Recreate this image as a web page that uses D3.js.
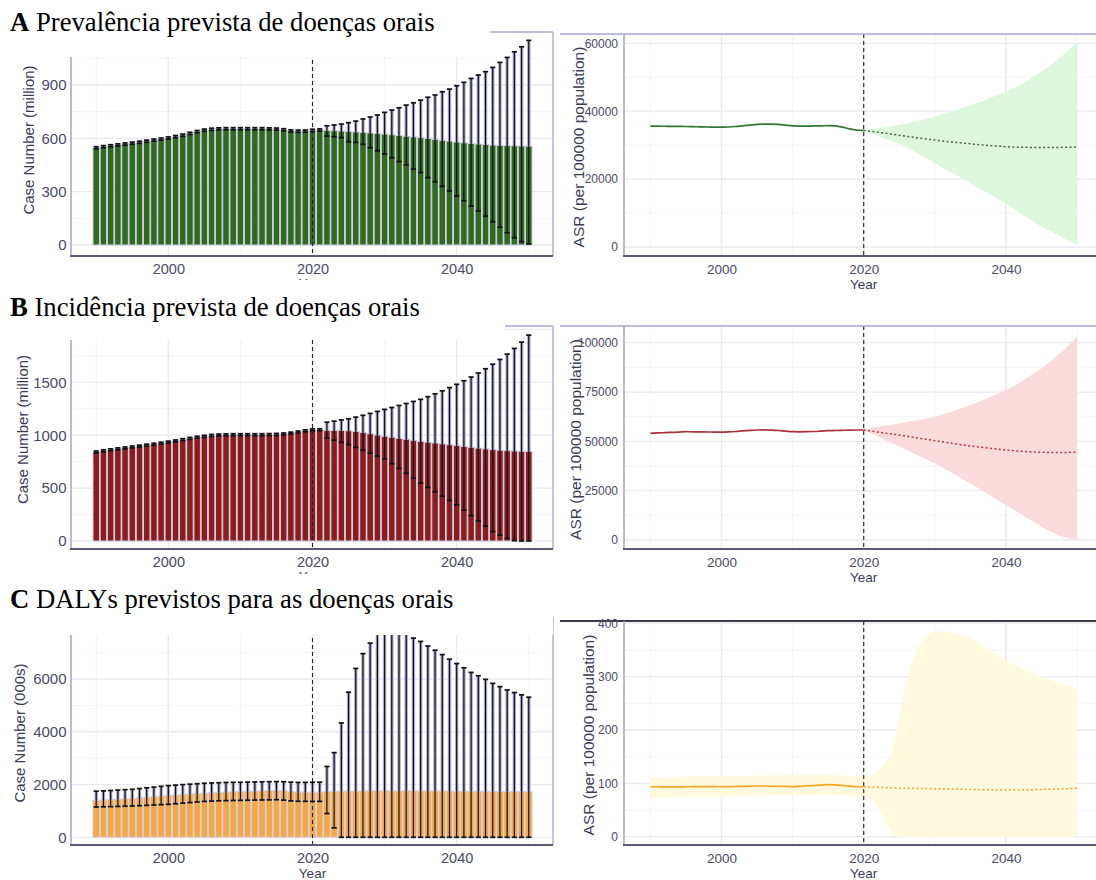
<!DOCTYPE html>
<html>
<head>
<meta charset="utf-8">
<script src="https://cdn.jsdelivr.net/npm/d3@7"></script>
<style>
  html, body { margin: 0; padding: 0; background: #ffffff; }
  svg { display: block; }
</style>
</head>
<body>
<svg id="fig" width="1096" height="880"></svg>
<script>
// ---------- data ----------
const years = [1990, 1991, 1992, 1993, 1994, 1995, 1996, 1997, 1998, 1999,
  2000, 2001, 2002, 2003, 2004, 2005, 2006, 2007, 2008, 2009,
  2010, 2011, 2012, 2013, 2014, 2015, 2016, 2017, 2018, 2019,
  2020, 2021, 2022, 2023, 2024, 2025, 2026, 2027, 2028, 2029,
  2030, 2031, 2032, 2033, 2034, 2035, 2036, 2037, 2038, 2039,
  2040, 2041, 2042, 2043, 2044, 2045, 2046, 2047, 2048, 2049, 2050];
const cutYear = 2020;
const yearTicks = [2000, 2020, 2040];

// A: prevalence, case number (million), 1990-2021 observed, 2022-2050 projected
const prevCase = [547, 553, 558, 563, 568, 573, 578, 584, 590, 596, 602, 610, 618, 628, 638, 646, 651, 653, 654, 654, 654, 654, 654, 654, 653, 652, 648, 642, 640, 641, 645, 647,
  645, 643, 641, 639, 636, 633, 630, 627, 624, 620, 616, 612, 608, 604, 599, 594, 589, 584, 579, 575, 571, 568, 565, 562, 560, 559, 558, 557, 556];
const prevCaseLow = [541, 547, 552, 557, 562, 567, 572, 578, 584, 590, 596, 604, 612, 622, 632, 640, 645, 647, 648, 648, 648, 648, 648, 648, 647, 646, 642, 636, 634, 635, 639, 641,
  613, 609, 604, 581, 577, 566, 547, 530, 512, 491, 469, 450, 427, 407, 379, 356, 330, 304, 276, 249, 219, 191, 163, 131, 100, 69, 41, 19, 6];
const prevCaseHigh = [553, 559, 564, 569, 574, 579, 584, 590, 596, 602, 608, 616, 624, 634, 644, 652, 657, 659, 660, 660, 660, 660, 660, 660, 659, 658, 654, 648, 646, 647, 651, 653,
  671, 675, 680, 688, 697, 709, 720, 731, 746, 759, 772, 787, 800, 815, 831, 844, 862, 877, 896, 915, 937, 956, 975, 999, 1027, 1055, 1087, 1115, 1151];
const prevCaseTicks = [0, 300, 600, 900];

// A: prevalence ASR (per 100000), observed 1990-2020 and projected 2020-2050
const prevAsrObs = [35600, 35580, 35560, 35540, 35520, 35500, 35450, 35400, 35350, 35300, 35280, 35350, 35500, 35700, 35900, 36100, 36200, 36200, 36100, 35900, 35700, 35600, 35600, 35650, 35700, 35750, 35650, 35300, 34800, 34450, 34350];
const prevAsrFc = [34350, 34100, 33800, 33500, 33200, 32900, 32600, 32300, 32000, 31750, 31500, 31250, 31000, 30800, 30600, 30400, 30200, 30000, 29850, 29700, 29550, 29450, 29400, 29350, 29300, 29300, 29300, 29300, 29350, 29400, 29450];
const prevAsrFcHigh = [34350, 34700, 35000, 35300, 35600, 35900, 36300, 36800, 37300, 37800, 38400, 39000, 39600, 40300, 41000, 41800, 42500, 43300, 44100, 44900, 45750, 46800, 47800, 49000, 50200, 51600, 53100, 54700, 56500, 58400, 60500];
const prevAsrFcLow = [34350, 33500, 32700, 31900, 31200, 30600, 29500, 28300, 27100, 25900, 24700, 23500, 22300, 21200, 20000, 18800, 17600, 16400, 15200, 14050, 12900, 11500, 10100, 8700, 7300, 6000, 4900, 3800, 2700, 1600, 600];
const prevAsrTicks = [0, 20000, 40000, 60000];

// B: incidence, case number (million)
const incCase = [842, 852, 862, 871, 880, 889, 897, 906, 915, 925, 935, 946, 958, 970, 981, 990, 998, 1002, 1004, 1005, 1005, 1005, 1005, 1005, 1006, 1008, 1012, 1020, 1030, 1042, 1050, 1052,
  1046, 1045, 1044, 1042, 1035, 1025, 1014, 1002, 990, 981, 971, 962, 952, 943, 934, 926, 918, 910, 902, 894, 886, 878, 871, 864, 858, 854, 851, 849, 848];
const incCaseLow = [833, 843, 853, 862, 871, 880, 888, 897, 906, 916, 926, 937, 949, 961, 972, 981, 989, 993, 995, 996, 996, 996, 996, 996, 997, 999, 1003, 1011, 1021, 1033, 1041, 1043,
  975, 954, 933, 911, 885, 858, 831, 803, 775, 731, 686, 640, 594, 547, 506, 465, 424, 383, 342, 291, 240, 190, 140, 89, 55, 25, 3, 0, 0];
const incCaseHigh = [851, 861, 871, 880, 889, 898, 906, 915, 924, 934, 944, 955, 967, 979, 990, 999, 1007, 1011, 1013, 1014, 1014, 1014, 1014, 1014, 1015, 1017, 1021, 1029, 1039, 1051, 1059, 1061,
  1123, 1133, 1144, 1155, 1171, 1188, 1206, 1225, 1244, 1262, 1281, 1300, 1319, 1339, 1364, 1391, 1420, 1450, 1481, 1515, 1550, 1588, 1628, 1671, 1716, 1766, 1820, 1880, 1946];
const incCaseTicks = [0, 500, 1000, 1500];

// B: incidence ASR (per 100000)
const incAsrObs = [54080, 54250, 54400, 54550, 54700, 54900, 54850, 54800, 54750, 54700, 54700, 54800, 55000, 55300, 55550, 55750, 55800, 55700, 55500, 55200, 54900, 54850, 54900, 55000, 55200, 55400, 55500, 55600, 55700, 55750, 55750];
const incAsrFc = [55750, 55250, 54700, 54200, 53700, 53200, 52600, 52000, 51450, 50900, 50330, 49800, 49250, 48700, 48150, 47640, 47200, 46800, 46400, 46000, 45620, 45300, 45000, 44750, 44550, 44440, 44400, 44400, 44400, 44420, 44440];
const incAsrFcHigh = [55750, 56800, 57400, 58000, 58550, 59100, 59700, 60300, 61000, 61700, 62500, 63500, 64600, 65800, 67100, 68400, 69800, 71300, 72800, 74400, 76000, 77900, 80000, 82200, 84500, 87000, 89800, 92800, 95900, 99300, 103000];
const incAsrFcLow = [55750, 54000, 52400, 50700, 49000, 47300, 45700, 44000, 42300, 40600, 38900, 36900, 34800, 32800, 30700, 28700, 26500, 24300, 22100, 19900, 17700, 15500, 13300, 11100, 8900, 6700, 4800, 3100, 1700, 700, 0];
const incAsrTicks = [0, 25000, 50000, 75000, 100000];

// C: DALYs, case number (000s)
const dalyCase = [1400, 1415, 1430, 1445, 1460, 1475, 1497, 1519, 1541, 1563, 1585, 1603, 1620, 1638, 1655, 1673, 1688, 1702, 1714, 1726, 1736, 1744, 1752, 1760, 1768, 1774, 1765, 1735, 1718, 1712, 1711, 1715,
  1735, 1742, 1748, 1752, 1755, 1757, 1759, 1760, 1761, 1762, 1762, 1762, 1761, 1760, 1759, 1758, 1756, 1754, 1752, 1750, 1748, 1746, 1744, 1742, 1740, 1738, 1736, 1734, 1732];
const dalyCaseLow = [1148, 1155, 1162, 1170, 1178, 1186, 1198, 1210, 1224, 1237, 1250, 1272, 1294, 1316, 1338, 1360, 1372, 1382, 1390, 1396, 1400, 1405, 1410, 1415, 1420, 1425, 1410, 1380, 1365, 1362, 1360, 1362,
  900, 360, 0, 0, 0, 0, 0, 0, 0, 0, 0, 0, 0, 0, 0, 0, 0, 0, 0, 0, 0, 0, 0, 0, 0, 0, 0, 0, 0];
const dalyCaseHigh = [1748, 1760, 1775, 1790, 1805, 1820, 1848, 1876, 1904, 1932, 1960, 1980, 1998, 2015, 2032, 2048, 2060, 2070, 2078, 2083, 2086, 2092, 2098, 2104, 2108, 2111, 2105, 2090, 2080, 2082, 2086, 2090,
  2685, 3210, 4335, 5500, 6400, 6960, 7360, 7720, 7950, 8050, 8000, 7850, 7550, 7425, 7250, 7090, 6925, 6750, 6585, 6425, 6250, 6125, 5985, 5835, 5710, 5585, 5486, 5400, 5310];
const dalyCaseTicks = [0, 2000, 4000, 6000];

// C: DALYs ASR (per 100000)
const dalyAsrObs = [93.6, 93.6, 93.5, 93.5, 93.5, 93.6, 93.7, 93.8, 93.8, 93.7, 93.6, 93.8, 94.1, 94.5, 94.8, 95.0, 95.0, 94.8, 94.5, 94.2, 94.0, 94.5, 95.2, 96.0, 96.8, 97.5, 97.3, 96.2, 94.8, 93.9, 93.6];
const dalyAsrObsHigh = [110.6, 111, 111.5, 112, 112.3, 112.6, 112.9, 113.1, 113.3, 113.5, 113.6, 113.8, 114, 114.2, 114.4, 114.6, 114.7, 114.8, 114.9, 115, 115, 115.1, 115.3, 115.5, 115.6, 115.6, 115.3, 114.8, 114, 113.5, 113];
const dalyAsrObsLow = [72, 72.5, 73, 73.4, 73.8, 74.1, 74.4, 74.6, 74.8, 74.9, 75, 75.4, 75.8, 76.2, 76.6, 77, 77.3, 77.5, 77.7, 77.9, 78, 78.3, 78.6, 78.9, 79.2, 79.4, 79, 78, 76.8, 75.8, 75];
const dalyAsrFc = [93.6, 93.0, 92.5, 92.0, 91.5, 91.0, 90.8, 90.6, 90.4, 90.2, 90.0, 89.7, 89.4, 89.1, 88.8, 88.5, 88.3, 88.1, 87.9, 87.6, 87.4, 87.5, 87.7, 88.0, 88.3, 88.6, 89.0, 89.4, 89.8, 90.2, 90.6];
const dalyAsrFcHigh = [113, 113, 123, 139, 162.5, 225, 288, 335, 363, 378, 384, 385, 384, 381, 377, 372, 364, 356, 348, 339, 331, 324, 317, 311, 305, 300, 295, 290, 286, 282, 278];
const dalyAsrFcLow = [75, 72, 55, 28, 8, 0, 0, 0, 0, 0, 0, 0, 0, 0, 0, 0, 0, 0, 0, 0, 0, 0, 0, 0, 0, 0, 0, 0, 0, 0, 0];
const dalyAsrTicks = [0, 100, 200, 300, 400];

// ---------- drawing ----------
const svg = d3.select("#fig");
const SANS = "'Liberation Sans', Arial, Helvetica, sans-serif";
const SERIF = "'Liberation Serif', 'Times New Roman', serif";
const INK = { tick: "#4a4a66", title: "#3b3b55", axisDark: "#5a5a78", axisLight: "#a7a7d0",
  grid: "#e9e9ef", gridMinor: "#f3f3f6", gap: "#cfcfe7", halo: "#a9a9d6", err: "#111111" };

const obsYears = years.slice(0, years.indexOf(cutYear) + 1);
const fcYears = years.slice(years.indexOf(cutYear));
const minorYears = [1990, 2010, 2030, 2050];

const xLeft = d3.scaleLinear().domain([1986.5, 2053.5]).range([71, 554]);
const xRight = d3.scaleLinear().domain([1986.3, 2053.5]).range([624, 1102]);

function drawGrid(g, x, y, x0, x1, top, bottom, ticks) {
  const step = ticks[1] - ticks[0];
  const yMinor = [];
  for (let v = ticks[0] + step / 2; y(v) >= top; v += step) yMinor.push(v);
  const yMajor = [];
  for (let v = ticks[0]; y(v) >= top; v += step) yMajor.push(v);
  g.append("g").selectAll("line").data(minorYears).join("line")
    .attr("x1", d => x(d)).attr("x2", d => x(d)).attr("y1", top).attr("y2", bottom)
    .attr("stroke", INK.gridMinor).attr("stroke-width", 0.9);
  g.append("g").selectAll("line").data(yMinor).join("line")
    .attr("x1", x0).attr("x2", x1).attr("y1", d => y(d)).attr("y2", d => y(d))
    .attr("stroke", INK.gridMinor).attr("stroke-width", 0.9);
  g.append("g").selectAll("line").data(yearTicks).join("line")
    .attr("x1", d => x(d)).attr("x2", d => x(d)).attr("y1", top).attr("y2", bottom)
    .attr("stroke", INK.grid).attr("stroke-width", 1.3);
  g.append("g").selectAll("line").data(yMajor).join("line")
    .attr("x1", x0).attr("x2", x1).attr("y1", d => y(d)).attr("y2", d => y(d))
    .attr("stroke", INK.grid).attr("stroke-width", 1.3);
}

function tickLabels(g, x, y, ticks, bottom, xLabelY, yLabelX, yFont, xFont) {
  g.append("g").attr("transform", `translate(${yLabelX},0)`)
    .call(d3.axisLeft(y).tickValues(ticks).tickFormat(d3.format("d")).tickSize(0).tickPadding(0))
    .call(a => a.select(".domain").remove())
    .call(a => a.selectAll("text").attr("fill", INK.tick).attr("font-family", SANS).attr("font-size", yFont));
  g.append("g").attr("transform", `translate(0,${bottom})`)
    .call(d3.axisBottom(x).tickValues(yearTicks).tickFormat(d3.format("d")).tickSize(0))
    .call(a => a.select(".domain").remove())
    .call(a => a.selectAll("text").attr("y", xLabelY).attr("dy", null)
      .attr("fill", INK.tick).attr("font-family", SANS).attr("font-size", xFont));
}

function yTitle(g, text, cx, cy, size) {
  g.append("text").attr("transform", `translate(${cx},${cy}) rotate(-90)`)
    .attr("text-anchor", "middle").attr("dominant-baseline", "central")
    .attr("font-family", SANS).attr("font-size", size).attr("fill", INK.title).text(text);
}

function xTitle(g, x, baseline) {
  g.append("text").attr("x", x(cutYear)).attr("y", baseline).attr("text-anchor", "middle")
    .attr("font-family", SANS).attr("font-size", 13.5).attr("fill", INK.title).text("Year");
}

function casePanel(p) {
  const y = d3.scaleLinear().domain([0, p.ticks[p.ticks.length - 1]]).range([p.zeroPx, p.tickPx]);
  const g = svg.append("g");
  drawGrid(g, xLeft, y, 71, 553, p.top, p.bottom, p.ticks);

  const rows = years.map((yr, i) => ({ yr, m: p.mean[i], lo: p.low[i], hi: p.high[i] }));
  const step = xLeft(1991) - xLeft(1990);
  const bw = step * 0.9;
  const cap = step * 0.36;
  const hiPx = d => Math.max(y(d.hi), p.clipTop);

  const plot = g.append("g");
  plot.selectAll("rect").data(rows).join("rect")
    .attr("x", d => xLeft(d.yr) - bw / 2).attr("width", bw)
    .attr("y", d => y(d.m)).attr("height", d => y(0) - y(d.m))
    .attr("fill", p.color).attr("stroke", INK.gap).attr("stroke-width", 1);

  // error bars: pale halo only where the whisker rises above its bar
  const eb = plot.append("g");
  eb.selectAll("line.halo").data(rows.filter(d => d.hi > d.m)).join("line").attr("class", "halo")
    .attr("x1", d => xLeft(d.yr)).attr("x2", d => xLeft(d.yr))
    .attr("y1", d => y(Math.max(d.m, d.lo))).attr("y2", hiPx)
    .attr("stroke", INK.halo).attr("stroke-width", 3.4);
  eb.selectAll("line.core").data(rows).join("line").attr("class", "core")
    .attr("x1", d => xLeft(d.yr)).attr("x2", d => xLeft(d.yr))
    .attr("y1", d => y(d.lo)).attr("y2", hiPx)
    .attr("stroke", INK.err).attr("stroke-width", 1.2);
  ["lo", "hi"].forEach(k => {
    eb.selectAll("line.cap" + k).data(rows.filter(d => y(d[k]) >= p.clipTop)).join("line").attr("class", "cap" + k)
      .attr("x1", d => xLeft(d.yr) - cap).attr("x2", d => xLeft(d.yr) + cap)
      .attr("y1", d => y(d[k])).attr("y2", d => y(d[k]))
      .attr("stroke", INK.err).attr("stroke-width", 1.7);
  });

  g.append("line").attr("x1", xLeft(cutYear)).attr("x2", xLeft(cutYear))
    .attr("y1", p.top).attr("y2", p.bottom)
    .attr("stroke", "#222").attr("stroke-width", 1.1).attr("stroke-dasharray", "4,3");

  // panel frame: light left/top/right, darker bottom
  g.append("line").attr("x1", 71).attr("x2", 553).attr("y1", p.top).attr("y2", p.top)
    .attr("stroke", INK.axisLight).attr("stroke-width", 1.3);
  g.append("line").attr("x1", 553).attr("x2", 553).attr("y1", p.top).attr("y2", p.bottom)
    .attr("stroke", INK.axisLight).attr("stroke-width", 1.3);
  g.append("line").attr("x1", 71).attr("x2", 71).attr("y1", p.top).attr("y2", p.bottom)
    .attr("stroke", INK.axisLight).attr("stroke-width", 1.6);
  g.append("line").attr("x1", 70).attr("x2", 553).attr("y1", p.bottom).attr("y2", p.bottom)
    .attr("stroke", INK.axisDark).attr("stroke-width", 1.8);

  tickLabels(g, xLeft, y, p.ticks, p.bottom, 17.5, 66.5, 15, 14.5);
  xTitle(g, xLeft, p.bottom + p.yearGap);
  yTitle(g, p.yLabel, p.yLabelX, (p.top + p.bottom) / 2 + p.yLabelShift, 15);
}

function asrPanel(p) {
  const y = d3.scaleLinear().domain([0, p.ticks[p.ticks.length - 1]]).range([p.zeroPx, p.tickPx]);
  const g = svg.append("g");
  drawGrid(g, xRight, y, 624, 1096, p.top, p.bottom, p.ticks);

  const curve = d3.curveMonotoneX;
  const area = d3.area().x(d => xRight(d.yr)).y0(d => y(d.lo)).y1(d => y(d.hi)).curve(curve);
  if (p.obsLow) {
    const obsBand = obsYears.map((yr, i) => ({ yr, lo: p.obsLow[i], hi: p.obsHigh[i] }));
    g.append("path").datum(obsBand).attr("d", area).attr("fill", p.band);
  }
  const fcBand = fcYears.map((yr, i) => ({ yr, lo: p.fcLow[i], hi: p.fcHigh[i] }));
  g.append("path").datum(fcBand).attr("d", area).attr("fill", p.band);

  const line = d3.line().x(d => xRight(d.yr)).y(d => y(d.v)).curve(curve);
  g.append("path").datum(obsYears.map((yr, i) => ({ yr, v: p.obs[i] })))
    .attr("d", line).attr("fill", "none").attr("stroke", p.lineColor).attr("stroke-width", 1.7);
  g.append("path").datum(fcYears.map((yr, i) => ({ yr, v: p.fc[i] })))
    .attr("d", line).attr("fill", "none").attr("stroke", p.dotColor).attr("stroke-width", 1.5)
    .attr("stroke-dasharray", "2,2.4");

  g.append("line").attr("x1", xRight(cutYear)).attr("x2", xRight(cutYear))
    .attr("y1", p.top).attr("y2", p.bottom)
    .attr("stroke", "#222").attr("stroke-width", 1.1).attr("stroke-dasharray", "4,3");

  g.append("line").attr("x1", 560).attr("x2", 1096).attr("y1", p.top).attr("y2", p.top)
    .attr("stroke", p.topColor).attr("stroke-width", p.topWidth);
  g.append("line").attr("x1", 624).attr("x2", 624).attr("y1", p.top).attr("y2", p.bottom)
    .attr("stroke", INK.axisLight).attr("stroke-width", 1.6);
  g.append("line").attr("x1", 623).attr("x2", 1096).attr("y1", p.bottom).attr("y2", p.bottom)
    .attr("stroke", INK.axisDark).attr("stroke-width", 2);

  tickLabels(g, xRight, y, p.ticks, p.bottom, 17.5, 618, 12, 13.5);
  xTitle(g, xRight, p.bottom + 32.5);
  yTitle(g, "ASR (per 100000 population)", p.yLabelX, (p.top + p.bottom) / 2 + 2, 15.5);
}

function panelTitle(letter, text, box, baseline) {
  svg.append("rect").attr("x", box[0]).attr("y", box[1]).attr("width", box[2]).attr("height", box[3]).attr("fill", "#fff");
  const t = svg.append("text").attr("x", 10).attr("y", baseline)
    .attr("font-family", SERIF).attr("font-size", 26.7).attr("fill", "#000");
  t.append("tspan").attr("font-weight", "bold").text(letter);
  t.append("tspan").text(" " + text);
}

// row A
casePanel({ mean: prevCase, low: prevCaseLow, high: prevCaseHigh, ticks: prevCaseTicks,
  zeroPx: 245, tickPx: 85, top: 32, bottom: 256, clipTop: 0, color: "#2f6a1f", yearGap: 31.5,
  yLabel: "Case Number (million)", yLabelX: 28, yLabelShift: -4 });
asrPanel({ obs: prevAsrObs, fc: prevAsrFc, fcLow: prevAsrFcLow, fcHigh: prevAsrFcHigh, ticks: prevAsrTicks,
  zeroPx: 247, tickPx: 43.3, top: 34, bottom: 256, band: "#dcf7dc", lineColor: "#2f7a2f", dotColor: "#3d6b3d",
  topColor: INK.axisLight, topWidth: 1.5, yLabelX: 578 });

// row B
casePanel({ mean: incCase, low: incCaseLow, high: incCaseHigh, ticks: incCaseTicks,
  zeroPx: 541, tickPx: 382.3, top: 326, bottom: 549, clipTop: 0, color: "#8c1d1d", yearGap: 31.5,
  yLabel: "Case Number (million)", yLabelX: 22, yLabelShift: -8 });
asrPanel({ obs: incAsrObs, fc: incAsrFc, fcLow: incAsrFcLow, fcHigh: incAsrFcHigh, ticks: incAsrTicks,
  zeroPx: 540, tickPx: 342.7, top: 326, bottom: 549, band: "#f9dbdb", lineColor: "#a8333d", dotColor: "#b8323c",
  topColor: INK.axisLight, topWidth: 1.5, yLabelX: 575 });

// row C
casePanel({ mean: dalyCase, low: dalyCaseLow, high: dalyCaseHigh, ticks: dalyCaseTicks,
  zeroPx: 837.3, tickPx: 679, top: 617, bottom: 845, clipTop: 635, color: "#f5a842", yearGap: 32.5,
  yLabel: "Case Number (000s)", yLabelX: 19, yLabelShift: 2 });
asrPanel({ obs: dalyAsrObs, obsLow: dalyAsrObsLow, obsHigh: dalyAsrObsHigh,
  fc: dalyAsrFc, fcLow: dalyAsrFcLow, fcHigh: dalyAsrFcHigh, ticks: dalyAsrTicks,
  zeroPx: 836.7, tickPx: 623.3, top: 621, bottom: 845, band: "#fff9df", lineColor: "#f5a623", dotColor: "#f5a623",
  topColor: "#3a3a4e", topWidth: 2, yLabelX: 588 });

// panel headings (white header boxes sit over the tops of the left panels)
panelTitle("A", "Prevalência prevista de doenças orais", [0, 0, 490, 57], 31);
panelTitle("B", "Incidência prevista de doenças orais", [0, 280, 505, 60], 316);
panelTitle("C", "DALYs previstos para as doenças orais", [0, 574, 553, 61], 608);
</script>
</body>
</html>
